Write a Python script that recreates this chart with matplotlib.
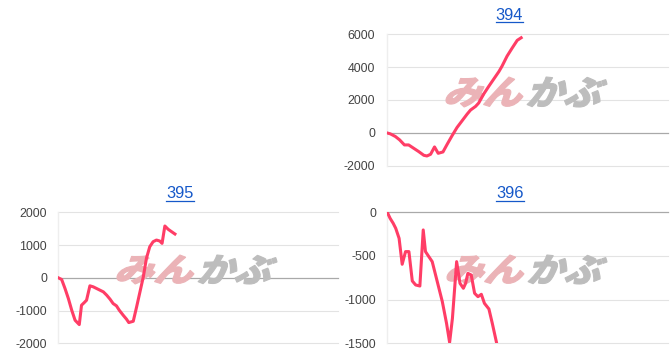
import matplotlib
matplotlib.use("Agg")
import matplotlib.pyplot as plt
from matplotlib.textpath import TextPath
from matplotlib.font_manager import FontProperties
from matplotlib.patches import PathPatch
from matplotlib.transforms import Affine2D, IdentityTransform
from matplotlib.lines import Line2D

# ---------------- data ----------------
titles = ["394", "395", "396"]

x394 = [0, 1.3, 3.1, 4.6, 6.3, 7.8, 9.6, 11.4, 13.2, 14.3, 15.6, 17.0, 18.3, 20.0, 21.5,
        23.2, 25.0, 26.8, 28.6, 29.8, 31.6, 32.7, 34.5, 36.3, 38.1, 39.9, 41.0, 42.8,
        44.6, 46.4, 47.8]
y394 = [0, -61, -224, -428, -735, -735, -939, -1143, -1367, -1408, -1306, -857, -1245,
        -1163, -694, -184, 327, 735, 1143, 1388, 1612, 1816, 2367, 2837, 3286, 3735,
        4061, 4673, 5163, 5633, 5790]

x395 = [0, 1.2, 2.4, 3.6, 4.8, 6.0, 7.5, 8.3, 9.3, 10.1, 11.3, 12.5, 13.7, 14.9, 16.1,
        17.3, 18.5, 19.6, 20.8, 21.8, 23.2, 24.4, 25.2, 26.8, 28.0, 29.2, 30.4, 31.5,
        32.7, 33.9, 35.1, 36.3, 37.1, 38.1, 39.3, 40.5, 41.7]
y395 = [0, -51, -327, -633, -990, -1296, -1429, -837, -755, -684, -245, -276, -327,
        -378, -429, -531, -653, -786, -857, -990, -1143, -1265, -1367, -1327, -888,
        -429, 31, 592, 949, 1102, 1153, 1122, 1051, 1582, 1480, 1408, 1337]

x396 = [0, 1.0, 2.1, 3.0, 4.2, 5.3, 6.5, 7.7, 8.9, 10.1, 11.6, 12.8, 13.6, 14.8, 16.0,
        17.8, 19.6, 21.1, 22.2, 23.2, 24.7, 25.9, 27.1, 27.9, 28.7, 29.9, 31.1, 32.3,
        33.5, 34.6, 36.2, 37.4, 38.9, 39.6]
y396 = [0, -69, -126, -183, -298, -595, -450, -450, -786, -832, -844, -202, -450, -508,
        -565, -794, -1023, -1271, -1490, -1214, -565, -813, -870, -813, -699, -718,
        -927, -966, -939, -1042, -1107, -1271, -1490, -1600]

xs = [x394, x395, x396]
ys = [y394, y395, y396]
yticks = [[-2000, 0, 2000, 4000, 6000],
          [-2000, -1000, 0, 1000, 2000],
          [-1500, -1000, -500, 0]]
ylims = [(-2000, 6000), (-2000, 2000), (-1500, 0)]

# ---------------- layout (pixels) ----------------
W, H = 671, 359
boxes = [(386.7, 668, 34.3, 165.7),
         (58.3, 338, 212.3, 343.3),
         (387.3, 668, 212.3, 343.3)]
title_pos = [(509.5, 15), (180, 194), (510, 194)]
wm_boxes = [(446, 523, 527, 607, 77, 107),
            (117, 194, 198, 277, 255, 284),
            (447, 524, 528, 607, 255, 284)]

LINE = "#ff3d66"
GRID = "#e3e3e3"
ZERO = "#a9a9a9"
TICK = "#444444"
LINK = "#1558c9"
PINK = "#ebb3b7"
WGRAY = "#bdbdbd"

plt.rcParams["font.family"] = ["Liberation Sans", "DejaVu Sans"]

fig = plt.figure(figsize=(W / 100, H / 100), dpi=100)
fig.patch.set_facecolor("white")

fp = FontProperties(family="Noto Sans CJK JP", weight=900)


def add_word(ax, text, color, x0, x1, yt, yb):
    tp = TextPath((0, 0), text, size=40, prop=fp)
    path = Affine2D().skew_deg(18, 0).transform_path(tp)
    ext = path.get_extents()
    sx = (x1 - x0) / ext.width
    sy = (yb - yt) / ext.height
    tr = (Affine2D().translate(-ext.x0, -ext.y0).scale(sx, sy)
          .translate(x0, H - yb))
    path = tr.transform_path(path)
    patch = PathPatch(path, facecolor=color, edgecolor=color, lw=0.8,
                      transform=IdentityTransform(), zorder=1.5, clip_on=False)
    ax.add_artist(patch)


for i in range(3):
    l, r, t, b = boxes[i]
    ax = fig.add_axes([l / W, 1 - b / H, (r - l) / W, (b - t) / H])
    ax.set_xlim(0, 100)
    ax.set_ylim(*ylims[i])
    ax.set_yticks(yticks[i])
    ax.set_yticklabels([str(v) for v in yticks[i]])
    ax.set_xticks([])
    ax.tick_params(axis="y", length=0, pad=8.2, labelsize=8.9, labelcolor=TICK)
    for s in ["top", "right", "bottom"]:
        ax.spines[s].set_visible(False)
    ax.spines["left"].set_color("#eeeeee")
    ax.spines["left"].set_linewidth(1.0)
    for v in yticks[i]:
        ax.axhline(v, color=ZERO if v == 0 else GRID, lw=0.9 if v == 0 else 0.8,
                   zorder=1, clip_on=False)
    ax.plot(xs[i], ys[i], color=LINE, lw=2.2, zorder=3, solid_joinstyle="round")

    px0, px1, px2, px3, wt, wb = wm_boxes[i]
    add_word(ax, "みん", PINK, px0, px1, wt, wb)
    add_word(ax, "かぶ", WGRAY, px2, px3, wt, wb)

    cx, cy = title_pos[i]
    fig.text(cx / W, 1 - cy / H, titles[i], ha="center", va="center",
             fontsize=11.8, color=LINK)

fig.canvas.draw()
renderer = fig.canvas.get_renderer()
for t in fig.texts[:]:
    bb = t.get_window_extent(renderer)
    yline = bb.y0 + 0.5
    fig.add_artist(Line2D([bb.x0 / W, bb.x1 / W], [yline / H, yline / H],
                          color=LINK, lw=0.9, transform=fig.transFigure))

fig.savefig("out.png", dpi=100, facecolor="white")
